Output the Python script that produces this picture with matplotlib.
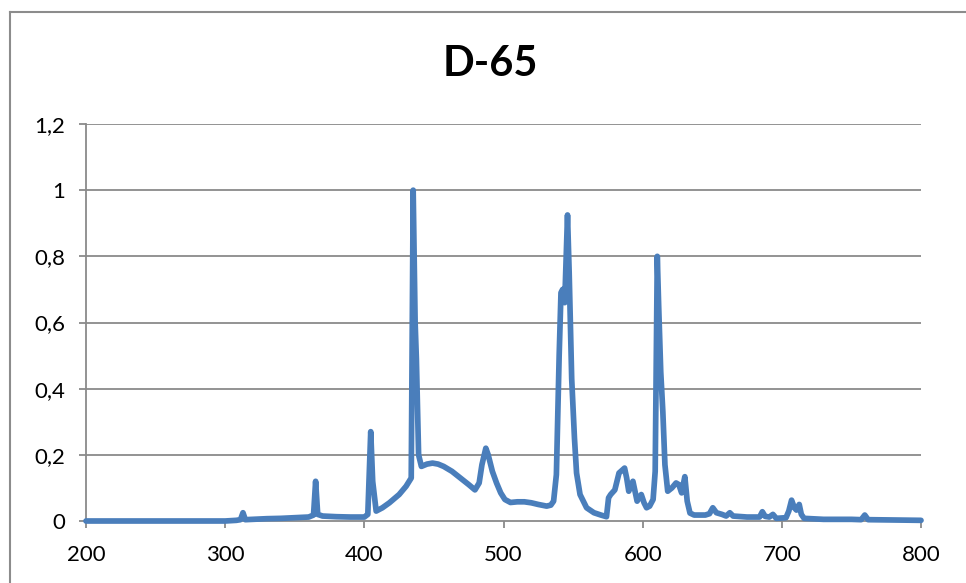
import matplotlib
matplotlib.use("Agg")
import matplotlib.pyplot as plt
from matplotlib.lines import Line2D

plt.rcParams['font.family'] = ['Lato', 'DejaVu Sans']

title = "D-65"
wavelength = [200, 250, 300, 308, 311, 312.8, 314.5, 320, 330, 340, 350, 360, 363.5, 365, 366.5,
              370, 380, 390, 400, 402.5, 404.6, 406, 408.5, 413, 418, 425, 430, 433.7, 435.1,
              436.5, 437.4, 439, 441, 445, 449, 453, 457, 463, 469, 475, 479.5, 482.5, 484.5,
              487.3, 489, 492, 495, 498, 501, 505, 510, 515, 520, 525, 531, 534, 536, 538, 540,
              541.3, 542.5, 544, 546, 547.2, 549, 551, 552.5, 555, 559.7, 565, 570, 574, 575.5,
              577, 580, 583, 587, 588.5, 590, 593, 596, 599, 601, 602.8, 605, 607.5, 609, 610.5,
              611.5, 613, 614.5, 616, 618, 621, 624, 626, 628, 630.3, 632, 634, 637, 645, 648,
              650.4, 653, 657, 660, 662.6, 665, 675, 684, 686, 688, 691, 693.6, 696, 703, 705,
              707, 709, 710.5, 712.5, 714, 716, 730, 750, 757, 759.6, 762, 780, 800]
intensity = [0, 0, 0, 0.002, 0.004, 0.025, 0.004, 0.005, 0.007, 0.008, 0.01, 0.012, 0.018, 0.12, 0.02,
             0.015, 0.013, 0.012, 0.012, 0.02, 0.27, 0.12, 0.03, 0.04, 0.055, 0.08, 0.105, 0.13, 1.0,
             0.6, 0.49, 0.2, 0.165, 0.172, 0.175, 0.172, 0.165, 0.15, 0.13, 0.11, 0.094, 0.115, 0.17,
             0.22, 0.2, 0.15, 0.115, 0.085, 0.065, 0.056, 0.058, 0.058, 0.055, 0.05, 0.045, 0.048, 0.06, 0.14, 0.5,
             0.69, 0.70, 0.66, 0.925, 0.75, 0.43, 0.25, 0.145, 0.08, 0.04, 0.025, 0.018, 0.013, 0.07,
             0.08, 0.094, 0.145, 0.16, 0.13, 0.09, 0.12, 0.06, 0.08, 0.055, 0.04, 0.045, 0.065, 0.15, 0.80,
             0.65, 0.45, 0.33, 0.17, 0.09, 0.1, 0.115, 0.11, 0.085, 0.134, 0.06, 0.024, 0.018, 0.018, 0.022,
             0.04, 0.025, 0.02, 0.015, 0.025, 0.015, 0.012, 0.012, 0.028, 0.014, 0.012, 0.02, 0.008, 0.01, 0.03,
             0.063, 0.04, 0.033, 0.05, 0.02, 0.008, 0.005, 0.005, 0.004, 0.018, 0.004, 0.003, 0.002]
x_ticks = [200, 300, 400, 500, 600, 700, 800]
y_ticks = [0, 0.2, 0.4, 0.6, 0.8, 1.0, 1.2]
y_tick_labels = ["0", "0,2", "0,4", "0,6", "0,8", "1", "1,2"]

W, H = 966, 583
fig = plt.figure(figsize=(W / 100, H / 100), dpi=100)
fig.patch.set_facecolor('white')

left, right, bottom, top = 86, 921, 521, 124
ax = fig.add_axes([left / W, 1 - bottom / H, (right - left) / W, (bottom - top) / H])

grid_color = '#8a8a8a'
for yv in y_ticks[1:]:
    ax.axhline(yv, color=grid_color, lw=1.3, zorder=1)

ax.plot(wavelength, intensity, color='#4A7EBB', lw=4.1, solid_joinstyle='round',
        solid_capstyle='round', zorder=3, clip_on=False)

ax.set_xlim(200, 800)
ax.set_ylim(0, 1.2)
ax.set_xticks(x_ticks)
ax.set_xticklabels([str(v) for v in x_ticks])
ax.set_yticks(y_ticks)
ax.set_yticklabels(y_tick_labels)

for s in ['top', 'right']:
    ax.spines[s].set_visible(False)
for s in ['left', 'bottom']:
    ax.spines[s].set_color(grid_color)
    ax.spines[s].set_linewidth(1.3)

ax.tick_params(axis='y', direction='out', length=5, width=1.3, color=grid_color,
               labelsize=16, pad=10, labelcolor='black')
ax.tick_params(axis='x', direction='out', length=5, width=1.3, color=grid_color,
               labelsize=16, pad=12, labelcolor='black')

fig.text(490 / W, 1 - 64 / H, title, ha='center', va='center', fontsize=30,
         fontweight='bold', color='black')

border_color = '#8c8c8c'
fig.add_artist(Line2D([10 / W, 10 / W], [0, 1 - 12 / H], transform=fig.transFigure,
                      color=border_color, lw=1.5))
fig.add_artist(Line2D([10 / W, 1], [1 - 12 / H, 1 - 12 / H], transform=fig.transFigure,
                      color=border_color, lw=1.5))

fig.savefig('out.png', dpi=100)
